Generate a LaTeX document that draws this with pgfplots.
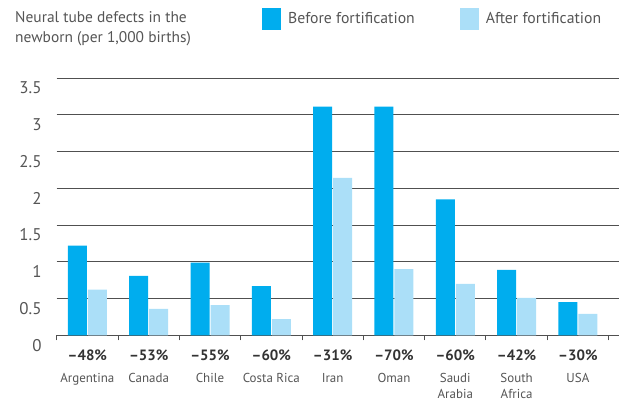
\documentclass[border=0pt]{standalone}
\usepackage{pgfplots}
\pgfplotsset{compat=1.18}
\usepackage{fontspec}
\setmainfont{PT Sans}
\definecolor{before}{HTML}{00ADEE}
\definecolor{after}{HTML}{ABDFF8}
\definecolor{txt}{HTML}{555555}
\definecolor{pct}{HTML}{333333}
\definecolor{grd}{HTML}{505050}
\newcommand{\pc}[1]{{\fontsize{15}{15}\selectfont\bfseries\color{pct}#1}}
\begin{document}
\begin{tikzpicture}
\path[use as bounding box] (0,0) rectangle (620bp,402bp);
\node[anchor=north west, align=left, inner sep=0pt, text=txt, font=\fontsize{15.5}{20}\selectfont] at (15bp,391bp) {Neural tube defects in the\\newborn (per 1,000 births)};
\begin{axis}[
 at={(56.7bp,66.7bp)}, anchor=south west, scale only axis,
 width=562.3bp, height=257.3bp,
 ymin=0, ymax=3.5, ytick={0,0.5,...,3.5},
 xmin=-0.5, xmax=8.67,
 ybar=1bp, bar width=19bp,
 axis x line=bottom, axis y line=left,
 axis line style={-, draw=grd, line width=0.9bp},
 y axis line style={draw=none},
 ytick style={draw=none},
 ymajorgrids, grid style={draw=grd, line width=0.9bp},
 xtick={0,...,8},
 minor xtick={-0.5,0.5,...,8.5},
 major tick length=0pt, minor tick length=5bp, tick align=outside,
 xtick style={draw=grd, line width=0.9bp},
 xticklabels={{\pc{–48\%}\\[7bp]Argentina},{\pc{–53\%}\\[7bp]Canada},{\pc{–55\%}\\[7bp]Chile},{\pc{–60\%}\\[7bp]Costa Rica},{\pc{–31\%}\\[7bp]Iran},{\pc{–70\%}\\[7bp]Oman},{\pc{–60\%}\\[7bp]Saudi\\Arabia},{\pc{–42\%}\\[7bp]South\\Africa},{\pc{–30\%}\\[7bp]USA}},
 xticklabel style={align=center, anchor=north, inner sep=0pt, yshift=-14bp, text=txt, font=\fontsize{13}{15.5}\selectfont},
 yticklabel style={anchor=east, inner sep=0pt, xshift=-15bp, yshift=-10bp, text=txt, font=\fontsize{17}{17}\selectfont},
 /pgf/number format/assume math mode=true,
 legend columns=2,
 legend image code/.code={\fill[#1] (0bp,-11bp) rectangle (19bp,11bp);},
 legend style={at={(0.365,1.229)}, anchor=west, draw=none, fill=none, inner sep=0pt,
   nodes={inner sep=0pt, text=txt, font=\fontsize{15.8}{15.8}\selectfont, anchor=west},
   /tikz/every odd column/.style={column sep=7bp},
   /tikz/every even column/.style={column sep=45bp}},
]
\addplot[fill=before, draw=none] coordinates {(0,1.22)(1,0.81)(2,0.99)(3,0.67)(4,3.11)(5,3.11)(6,1.85)(7,0.89)(8,0.45)};
\addlegendentry{Before fortification}
\addplot[fill=after, draw=none] coordinates {(0,0.62)(1,0.36)(2,0.41)(3,0.22)(4,2.14)(5,0.90)(6,0.70)(7,0.51)(8,0.29)};
\addlegendentry{After fortification}
\end{axis}
\end{tikzpicture}
\end{document}
